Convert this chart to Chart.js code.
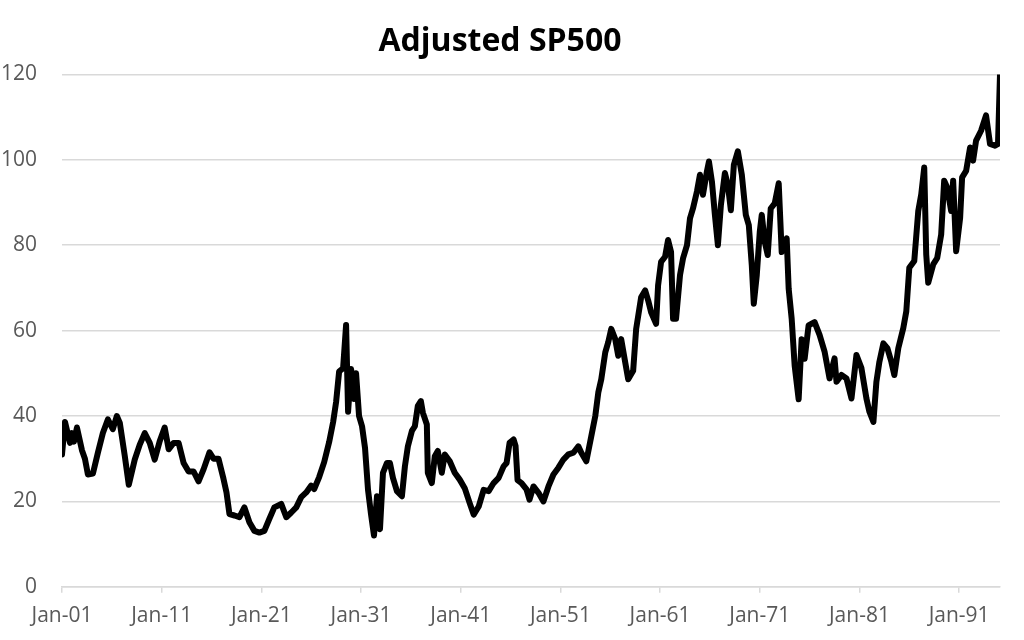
<!DOCTYPE html>
<html>
<head>
<meta charset="utf-8">
<title>Adjusted SP500</title>
<script src="https://cdn.jsdelivr.net/npm/chart.js@4.4.1/dist/chart.umd.min.js"></script>
<style>
  body { margin: 0; background: #ffffff; }
  #wrap { width: 1024px; height: 640px; position: relative; overflow: hidden; }
</style>
</head>
<body>
<div id="wrap"><canvas id="spChart" width="1024" height="640"></canvas></div>
<script>
// time of each reading (decimal year) and adjusted index value
const years = [
  1901.0, 1901.3, 1901.8, 1902.0, 1902.2, 1902.5, 1903.0, 1903.3, 1903.6, 1904.1,
  1904.6, 1905.1, 1905.6, 1906.1, 1906.5, 1906.8, 1907.3, 1907.7, 1908.3, 1908.8,
  1909.3, 1909.8, 1910.3, 1910.8, 1911.3, 1911.7, 1912.2, 1912.7, 1913.2, 1913.7,
  1914.2, 1914.7, 1915.2, 1915.8, 1916.2, 1916.7, 1917.2, 1917.5, 1917.8, 1918.3,
  1918.8, 1919.3, 1919.8, 1920.3, 1920.8, 1921.3, 1921.8, 1922.3, 1923.0, 1923.5,
  1924.0, 1924.5, 1925.0, 1925.5, 1926.0, 1926.3, 1926.8, 1927.3, 1927.8, 1928.2,
  1928.5, 1928.8, 1929.2, 1929.5, 1929.7, 1930.0, 1930.3, 1930.5, 1930.8, 1931.1,
  1931.4, 1931.7, 1932.0, 1932.3, 1932.6, 1932.9, 1933.2, 1933.6, 1933.9, 1934.2,
  1934.6, 1935.1, 1935.4, 1935.7, 1936.1, 1936.4, 1936.7, 1937.0, 1937.2, 1937.6,
  1937.7, 1938.1, 1938.4, 1938.7, 1939.1, 1939.4, 1939.9, 1940.4, 1940.9, 1941.4,
  1941.9, 1942.3, 1942.8, 1943.3, 1943.8, 1944.3, 1944.8, 1945.3, 1945.6, 1945.9,
  1946.3, 1946.5, 1946.7, 1947.1, 1947.6, 1947.9, 1948.3, 1948.8, 1949.3, 1949.8,
  1950.3, 1950.8, 1951.3, 1951.8, 1952.3, 1952.8, 1953.1, 1953.6, 1954.1, 1954.5,
  1954.8, 1955.1, 1955.5, 1955.8, 1956.1, 1956.5, 1956.8, 1957.1, 1957.5, 1957.8,
  1958.3, 1958.6, 1959.1, 1959.5, 1959.8, 1960.1, 1960.6, 1960.8, 1961.1, 1961.5,
  1961.8, 1962.1, 1962.3, 1962.6, 1963.0, 1963.3, 1963.7, 1964.0, 1964.3, 1964.7,
  1965.0, 1965.3, 1965.7, 1965.9, 1966.2, 1966.5, 1966.8, 1967.1, 1967.5, 1967.8,
  1968.1, 1968.4, 1968.8, 1969.2, 1969.6, 1969.9, 1970.2, 1970.4, 1970.7, 1971.0,
  1971.2, 1971.5, 1971.8, 1972.1, 1972.5, 1972.9, 1973.2, 1973.7, 1973.9, 1974.2,
  1974.5, 1974.9, 1975.2, 1975.5, 1975.9, 1976.5, 1977.0, 1977.5, 1978.0, 1978.5,
  1978.7, 1979.2, 1979.7, 1980.2, 1980.7, 1981.2, 1981.7, 1982.0, 1982.4, 1982.7,
  1983.0, 1983.4, 1983.8, 1984.2, 1984.5, 1984.9, 1985.4, 1985.7, 1986.0, 1986.5,
  1986.9, 1987.2, 1987.5, 1987.7, 1987.9, 1988.4, 1988.8, 1989.2, 1989.5, 1989.8,
  1990.2, 1990.4, 1990.7, 1991.1, 1991.3, 1991.7, 1992.1, 1992.4, 1992.7, 1993.2,
  1993.7, 1994.1, 1994.6, 1994.9, 1995.1
];
const values = [
  31, 38.6, 33.7, 36, 34, 37.3, 32, 30, 26.3, 26.5,
  31.4, 36, 39.2, 36.9, 40, 38.4, 30.6, 23.9, 29.8, 33.3,
  36, 33.7, 29.8, 34.1, 37.3, 32.2, 33.7, 33.7, 29, 27,
  27, 24.7, 27.5, 31.5, 30, 30, 25.3, 22.1, 17, 16.7,
  16.3, 18.6, 15.1, 13.1, 12.7, 13.1, 15.9, 18.6, 19.4, 16.3,
  17.4, 18.6, 21, 22.1, 23.7, 22.9, 25.7, 29.2, 33.9, 38.6,
  43.3, 50.4, 51.2, 61.3, 41, 51, 44, 50, 40, 37.6,
  32.5, 22.7, 17, 12, 21.2, 13.5, 26.7, 29, 29, 25.5,
  22.4, 21.2, 28.2, 32.9, 36.5, 37.6, 42.4, 43.5, 40.8, 38,
  26.7, 24.3, 30.6, 31.8, 26.7, 31, 29.4, 26.7, 25.1, 23.1,
  19.6, 16.9, 18.8, 22.7, 22.4, 24.3, 25.5, 28.2, 29, 33.7,
  34.5, 33, 25, 24.3, 22.8, 20.4, 23.5, 22, 20, 23.5,
  26.3, 27.9, 29.8, 31, 31.4, 32.9, 31.4, 29.4, 35.3, 40,
  45.5, 48.6, 54.9, 57.3, 60.4, 58, 54.1, 58, 52.6, 48.6,
  50.6, 60.4, 67.8, 69.4, 67.1, 64.3, 61.6, 70.6, 76.1, 77.3,
  81.2, 78.4, 62.8, 62.8, 73, 76.9, 80, 86.3, 88.6, 92.6,
  96.5, 91.8, 97.3, 99.6, 94.9, 87.1, 80, 89.4, 96.9, 94.1,
  88.2, 98.8, 102, 96.5, 87.1, 84.7, 75.3, 66.3, 73, 83.1,
  87.1, 80.8, 77.7, 88.6, 89.8, 94.5, 78.4, 81.6, 69.8, 62.8,
  51.8, 43.9, 58, 53.4, 61.2, 62, 59, 55.1, 48.8, 53.5,
  48, 49.6, 48.8, 44.1, 54.3, 51.2, 44.1, 41, 38.6, 48,
  52.7, 57, 55.9, 52.7, 49.6, 55.9, 60.6, 64.5, 74.7, 76.3,
  88, 91.9, 98.2, 77.8, 71.2, 75.5, 77, 82.5, 95.1, 93.5,
  88, 95.1, 78.6, 86.4, 95.9, 97.4, 102.9, 99.8, 104.5, 106.8,
  110.4, 103.7, 103.3, 103.7, 120
];

// x axis labels, one every ten years
const tickYears = [1901, 1911, 1921, 1931, 1941, 1951, 1961, 1971, 1981, 1991];
const tickLabels = ["Jan-01", "Jan-11", "Jan-21", "Jan-31", "Jan-41", "Jan-51", "Jan-61", "Jan-71", "Jan-81", "Jan-91"];

const gridColor = "#d9d9d9";
const labelColor = "#595959";

const points = years.map(function (yr, i) {
  return { x: yr, y: values[i] };
});

const ctx = document.getElementById("spChart");
const spChart = new Chart(ctx, {
  type: "line",
  data: {
    datasets: [
      {
        label: "Adjusted SP500",
        data: points,
        borderColor: "#000000",
        borderWidth: 6,
        pointRadius: 0,
        tension: 0,
        borderJoinStyle: "round",
        borderCapStyle: "round",
        fill: false,
      },
    ],
  },
  options: {
    responsive: false,
    animation: false,
    layout: { padding: { left: 0, right: 24, top: 0, bottom: 0 } },
    plugins: {
      legend: { display: false },
      tooltip: { enabled: false },
      title: {
        display: true,
        text: "Adjusted SP500",
        color: "#000000",
        font: { family: "'Open Sans', sans-serif", size: 32, weight: "bold" },
        padding: { top: 23, bottom: 13 },
      },
    },
    scales: {
      x: {
        type: "linear",
        min: 1901,
        max: 1995.1,
        afterBuildTicks: function (scale) {
          scale.ticks = tickYears.map(function (v) {
            return { value: v };
          });
        },
        ticks: {
          autoSkip: false,
          maxRotation: 0,
          color: labelColor,
          padding: 11,
          font: { family: "'Open Sans', sans-serif", size: 21 },
          callback: function (value) {
            const idx = tickYears.indexOf(value);
            return idx >= 0 ? tickLabels[idx] : "";
          },
        },
        grid: {
          drawOnChartArea: false,
          drawTicks: true,
          tickLength: 6,
          tickColor: gridColor,
          lineWidth: 1.5,
        },
        border: { display: true, color: gridColor, width: 1.5 },
      },
      y: {
        min: 0,
        max: 120,
        afterFit: function (scale) {
          scale.width = 62;
        },
        ticks: {
          stepSize: 20,
          color: labelColor,
          padding: 25,
          font: { family: "'Open Sans', sans-serif", size: 21 },
        },
        grid: {
          color: gridColor,
          lineWidth: 1.5,
          drawTicks: false,
        },
        border: { display: false },
      },
    },
  },
});
</script>
</body>
</html>
